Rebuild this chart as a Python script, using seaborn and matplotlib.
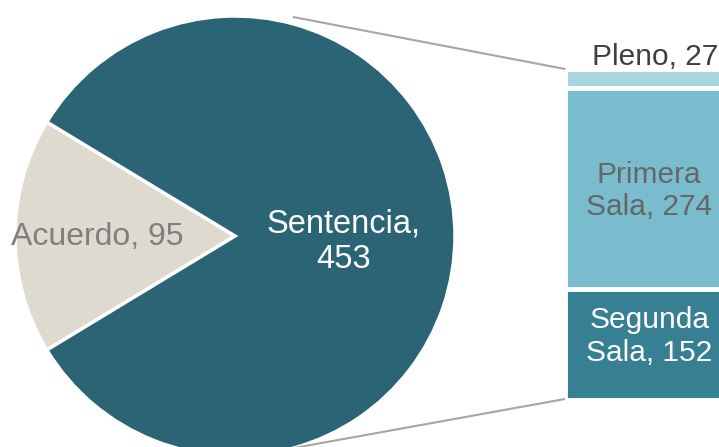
import numpy as np
import matplotlib
matplotlib.use("Agg")
import matplotlib.pyplot as plt
import seaborn as sns
import pandas as pd

# pie: tipo de resolución
PIE_LABELS = ["Acuerdo", "Sentencia"]
PIE_VALUES = [95, 453]
# bar: desglose de sentencias
BAR_LABELS = ["Segunda\nSala", "Primera\nSala", "Pleno"]
BAR_VALUES = [152, 274, 27]

PIE_COLORS = ["#dfdad0", "#2a6475"]
BAR_COLORS = ["#377f92", "#79bccd", "#a9d5df"]
BAR_TEXT = ["white", "#666666", "#404040"]

W, H = 719, 447

sns.set_theme(style="white")
plt.rcParams["font.family"] = ["Liberation Sans", "DejaVu Sans"]

fig = plt.figure(figsize=(W / 100, H / 100), dpi=100)

# ---- pie (axes in pixel units, y up)
ax = fig.add_axes([0, 0, 1, 1])
cx, cy, r = 235, H - 236, 220
ang = PIE_VALUES[0] / sum(PIE_VALUES) * 360
ax.pie(PIE_VALUES, colors=PIE_COLORS, center=(cx, cy), radius=r,
       startangle=180 - ang / 2, counterclock=True, frame=True,
       wedgeprops=dict(edgecolor="white", linewidth=2.5))
ax.set_xlim(0, W)
ax.set_ylim(0, H)
ax.set_aspect("equal")
ax.axis("off")

ax.text(97, H - 237, f"{PIE_LABELS[0]}, {PIE_VALUES[0]}", ha="center", va="center",
        fontsize=23, color="#7f7f7f")
ax.text(344, H - 242, f"{PIE_LABELS[1]},\n{PIE_VALUES[1]}", ha="center", va="center",
        fontsize=23.5, color="white", linespacing=1.2)

# ---- bar (stacked by drawing cumulative totals)
bx0, bx1 = 565, 721
by0, by1 = 400, 68.5
bax = fig.add_axes([bx0 / W, 1 - by0 / H, (bx1 - bx0) / W, (by0 - by1) / H])
cum = np.cumsum(BAR_VALUES)
for i in range(len(BAR_VALUES) - 1, -1, -1):
    df = pd.DataFrame({"g": ["s"], "v": [cum[i]]})
    sns.barplot(df, x="g", y="v", color=BAR_COLORS[i], width=1, ax=bax,
                edgecolor="white", linewidth=3.5, saturation=1)
bax.set_xlim(-0.5, 0.5)
bax.set_ylim(0, cum[-1])
bax.axis("off")

bottoms = np.concatenate([[0], cum[:-1]])
offsets = [11, -3]
for i in range(2):
    mid = bottoms[i] + BAR_VALUES[i] / 2
    bax.text(0.04, mid + offsets[i], f"{BAR_LABELS[i]}, {BAR_VALUES[i]}", ha="center",
             va="center", fontsize=21.5, color=BAR_TEXT[i], linespacing=1.2)
bax.text(0.08, cum[-1] - 4, f"{BAR_LABELS[2]}, {BAR_VALUES[2]}", ha="center", va="bottom",
         fontsize=21.5, color=BAR_TEXT[2], clip_on=False)

# ---- connector lines
a_top, a_bot = np.deg2rad(75), np.deg2rad(-85)
ax.plot([cx + 1.03 * r * np.cos(a_top), bx0], [cy + 1.03 * r * np.sin(a_top), H - 69],
        color="#a6a6a6", lw=1.5)
ax.plot([cx + r * np.cos(a_bot), bx0], [cy + r * np.sin(a_bot), H - 399], color="#a6a6a6",
        lw=1.5, clip_on=False)

fig.savefig("out.png", dpi=100)
